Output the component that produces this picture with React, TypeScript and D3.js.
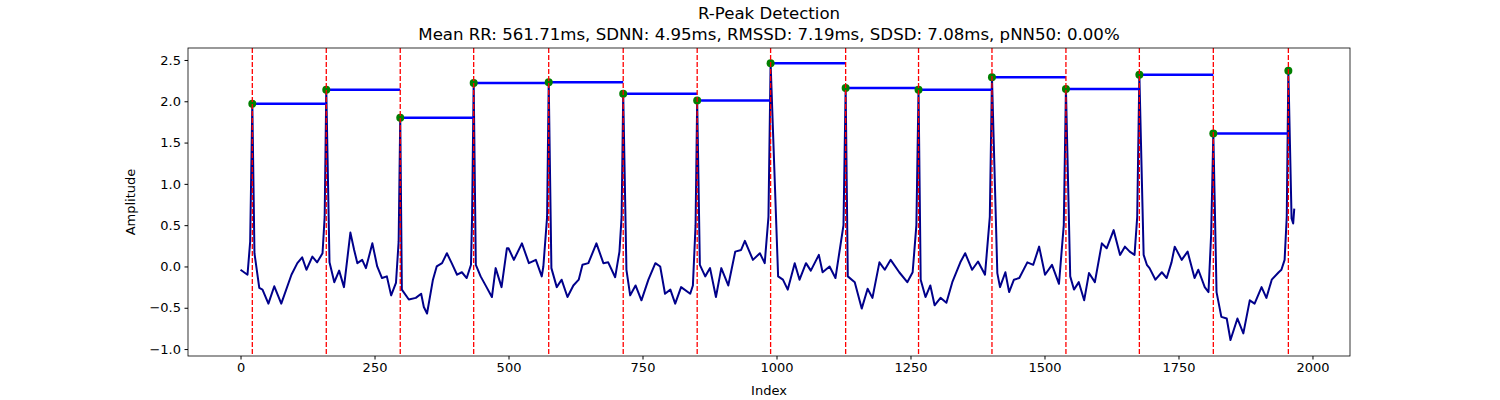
import React, { useRef, useEffect } from 'react';
import * as d3 from 'd3';

const sigIndex = [0, 13, 18, 22, 26, 35, 41, 52, 63, 76, 95, 106, 115, 123, 134, 143, 153, 157, 160, 166, 175, 184, 193, 205, 212, 218, 227, 234, 246, 255, 264, 273, 281, 290, 295, 298, 301, 314, 327, 337, 342, 348, 359, 366, 376, 385, 394, 404, 413, 422, 430, 432, 435, 439, 448, 459, 469, 476, 487, 497, 500, 510, 525, 538, 551, 562, 565, 572, 575, 580, 590, 599, 610, 621, 631, 638, 649, 664, 677, 686, 699, 707, 711, 714, 720, 727, 737, 748, 761, 774, 783, 792, 802, 811, 822, 839, 844, 849, 852, 857, 867, 876, 887, 897, 910, 923, 934, 941, 956, 969, 978, 985, 989, 1003, 1012, 1021, 1034, 1043, 1055, 1064, 1079, 1086, 1099, 1110, 1125, 1129, 1133, 1146, 1159, 1170, 1179, 1192, 1202, 1213, 1229, 1244, 1254, 1261, 1265, 1269, 1278, 1287, 1295, 1306, 1317, 1328, 1343, 1352, 1365, 1376, 1389, 1398, 1402, 1412, 1417, 1427, 1434, 1443, 1453, 1468, 1479, 1490, 1501, 1514, 1527, 1536, 1540, 1548, 1555, 1564, 1574, 1583, 1594, 1607, 1616, 1629, 1641, 1650, 1659, 1668, 1673, 1677, 1685, 1691, 1696, 1707, 1719, 1728, 1737, 1743, 1756, 1767, 1780, 1787, 1799, 1806, 1811, 1815, 1821, 1830, 1840, 1847, 1860, 1871, 1883, 1892, 1905, 1914, 1924, 1937, 1942, 1948, 1952, 1955, 1961, 1964, 1966];
const sigValue = [-0.04, -0.1, 0.3, 1.97, 0.16, -0.26, -0.28, -0.45, -0.24, -0.45, -0.1, 0.04, 0.11, -0.04, 0.12, 0.05, 0.16, 0.6, 2.14, 0.05, -0.19, -0.05, -0.25, 0.41, 0.2, 0.04, 0.08, -0.02, 0.28, 0.0, -0.14, -0.12, -0.35, -0.2, 0.3, 1.8, -0.28, -0.4, -0.38, -0.33, -0.49, -0.57, -0.16, 0.0, 0.04, 0.16, 0.04, -0.1, -0.07, -0.14, 0.02, 0.6, 2.22, 0.02, -0.12, -0.25, -0.37, -0.02, -0.25, 0.22, 0.22, 0.08, 0.28, 0.04, 0.08, -0.12, 0.0, 0.6, 2.23, -0.02, -0.25, -0.16, -0.37, -0.23, -0.16, 0.02, 0.04, 0.28, 0.04, 0.05, -0.13, 0.18, 0.6, 2.09, -0.04, -0.35, -0.23, -0.41, -0.16, 0.04, 0.0, -0.33, -0.28, -0.45, -0.25, -0.33, -0.23, 0.5, 2.01, 0.02, -0.12, -0.02, -0.37, -0.02, -0.23, 0.18, 0.2, 0.31, 0.08, 0.16, 0.04, 0.6, 2.46, -0.12, -0.16, -0.28, 0.04, -0.16, 0.04, -0.05, 0.14, -0.07, 0.0, -0.14, 0.5, 2.16, -0.12, -0.19, -0.51, -0.27, -0.38, 0.05, -0.04, 0.08, -0.07, -0.19, -0.07, 0.5, 2.14, -0.16, -0.37, -0.23, -0.47, -0.38, -0.44, -0.19, 0.05, 0.16, -0.04, 0.06, -0.1, 0.6, 2.29, -0.08, -0.25, -0.07, -0.31, -0.16, -0.14, 0.05, 0.02, 0.24, -0.1, 0.02, -0.21, 0.5, 2.15, -0.12, -0.28, -0.19, -0.41, -0.08, -0.19, 0.28, 0.22, 0.44, 0.14, 0.24, 0.18, 0.14, 0.6, 2.32, 0.14, 0.02, -0.02, -0.16, -0.07, -0.14, 0.05, 0.24, 0.08, 0.18, -0.14, -0.04, -0.25, -0.31, 0.4, 1.61, -0.31, -0.61, -0.63, -0.89, -0.63, -0.81, -0.41, -0.45, -0.25, -0.38, -0.16, -0.07, -0.04, 0.08, 0.6, 2.37, 0.58, 0.52, 0.7];

const peakIndex = [22, 160, 298, 435, 575, 714, 852, 989, 1129, 1265, 1402, 1540, 1677, 1815, 1955];
const peakValue = [1.97, 2.14, 1.8, 2.22, 2.23, 2.09, 2.01, 2.46, 2.16, 2.14, 2.29, 2.15, 2.32, 1.61, 2.37];

const xTicks = [0, 250, 500, 750, 1000, 1250, 1500, 1750, 2000];
const yTicks = [-1.0, -0.5, 0.0, 0.5, 1.0, 1.5, 2.0, 2.5];

const titleLines = [
  'R-Peak Detection',
  'Mean RR: 561.71ms, SDNN: 4.95ms, RMSSD: 7.19ms, SDSD: 7.08ms, pNN50: 0.00%',
];

export default function App() {
  const ref = useRef<SVGSVGElement>(null);

  useEffect(() => {
    const width = 1500;
    const height = 400;
    const margin = { top: 48, right: 150, bottom: 44, left: 188 };
    const svg = d3.select(ref.current);
    svg.selectAll('*').remove();
    svg.attr('width', width).attr('height', height).style('font-family', 'DejaVu Sans');

    const x = d3.scaleLinear().domain([-98, 2070]).range([margin.left, width - margin.right]);
    const y = d3.scaleLinear().domain([-1.084, 2.645]).range([height - margin.bottom, margin.top]);

    const g = svg.append('g');
    const pts = sigIndex.map((d, i) => [d, sigValue[i]] as [number, number]);
    g.append('path')
      .attr('d', d3.line().x(d => x(d[0])).y(d => y(d[1]))(pts))
      .attr('fill', 'none')
      .attr('stroke', '#00008b')
      .attr('stroke-width', 2)
      .attr('stroke-linejoin', 'round');

    // RR-interval lines
    peakIndex.slice(0, -1).forEach((p, i) => {
      g.append('line')
        .attr('x1', x(p)).attr('x2', x(peakIndex[i + 1]))
        .attr('y1', y(peakValue[i])).attr('y2', y(peakValue[i]))
        .attr('stroke', '#0000ff').attr('stroke-width', 2.5);
    });

    peakIndex.forEach((p, i) => {
      g.append('circle')
        .attr('cx', x(p)).attr('cy', y(peakValue[i])).attr('r', 4)
        .attr('fill', '#008000');
    });

    peakIndex.forEach(p => {
      g.append('line')
        .attr('x1', x(p)).attr('x2', x(p))
        .attr('y1', margin.top).attr('y2', height - margin.bottom)
        .attr('stroke', '#ff0000').attr('stroke-width', 1.3)
        .attr('stroke-dasharray', '5,2');
    });

    const xAxis = svg.append('g')
      .attr('transform', `translate(0,${height - margin.bottom})`)
      .call(d3.axisBottom(x).tickValues(xTicks).tickSize(3.5).tickPadding(3.5).tickFormat(d3.format('d')));
    const yAxis = svg.append('g')
      .attr('transform', `translate(${margin.left},0)`)
      .call(d3.axisLeft(y).tickValues(yTicks).tickSize(3.5).tickPadding(3.5).tickFormat(d3.format('.1f')));
    [xAxis, yAxis].forEach(a => {
      a.selectAll('text').style('font-size', '13px').style('font-family', 'DejaVu Sans').attr('fill', '#000');
      a.select('.domain').remove();
    });

    svg.append('rect')
      .attr('x', margin.left).attr('y', margin.top)
      .attr('width', width - margin.left - margin.right)
      .attr('height', height - margin.top - margin.bottom)
      .attr('fill', 'none').attr('stroke', '#000').attr('stroke-width', 0.8);

    svg.append('text').attr('x', (margin.left + width - margin.right) / 2).attr('y', 395)
      .attr('text-anchor', 'middle').style('font-size', '13px').text('Index');
    svg.append('text')
      .attr('transform', `translate(135,${(margin.top + height - margin.bottom) / 2}) rotate(-90)`)
      .attr('text-anchor', 'middle').style('font-size', '13px').text('Amplitude');

    titleLines.forEach((t, i) => {
      svg.append('text').attr('x', (margin.left + width - margin.right) / 2).attr('y', 19 + i * 21)
        .attr('text-anchor', 'middle').style('font-size', '16.6px').text(t);
    });
  }, []);

  return (
    <div style={{ position: 'absolute', left: 0, top: 0 }}>
      <svg ref={ref} />
    </div>
  );
}
